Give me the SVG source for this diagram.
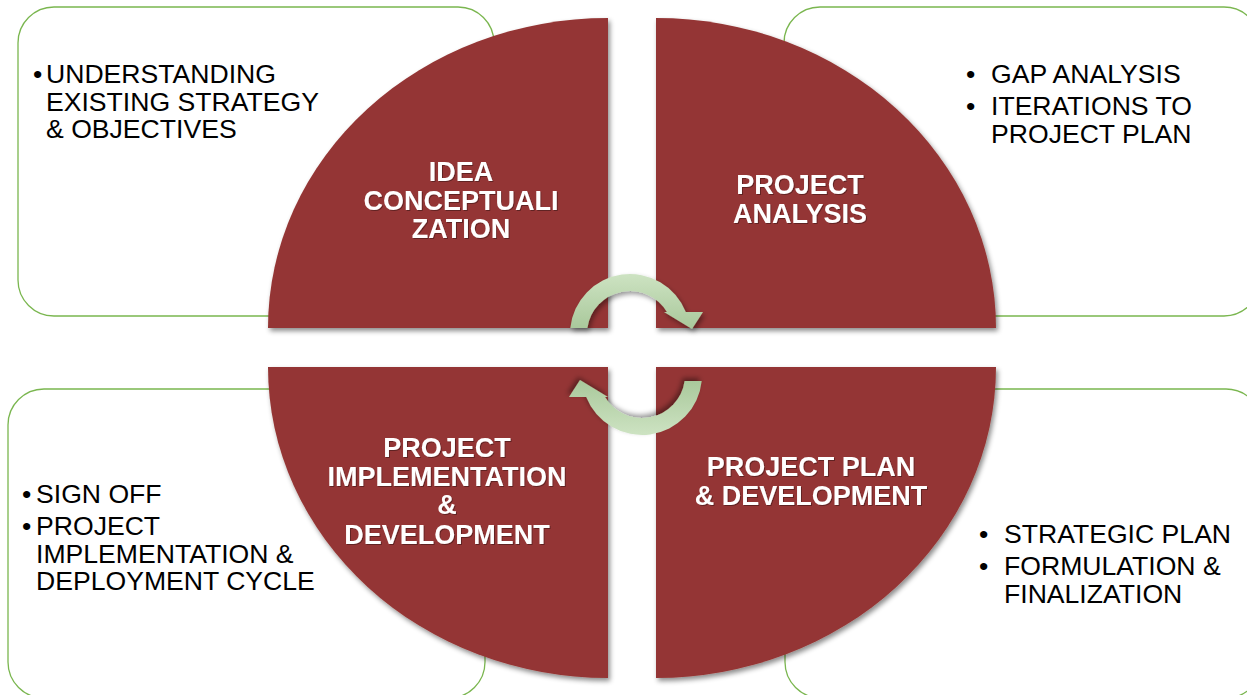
<svg xmlns="http://www.w3.org/2000/svg" width="1247" height="695" viewBox="0 0 1247 695">
<defs>
<style>
.box{fill:#ffffff;stroke:#7ab64f;stroke-width:1.3}
.quad{fill:#943634;filter:url(#sh)}
.lbl{font-family:"Liberation Sans",Arial,sans-serif;font-weight:bold;font-size:27px;fill:#ffffff;text-anchor:middle;filter:url(#tsh)}
.txt{font-family:"Liberation Sans",Arial,sans-serif;font-size:26.6px;fill:#000000}
.arrow{fill:url(#ag);filter:url(#ash)}
</style>
<filter id="sh" x="-10%" y="-10%" width="120%" height="120%">
<feDropShadow dx="2" dy="3" stdDeviation="2.5" flood-color="#000" flood-opacity="0.45"/>
</filter>
<filter id="ash" x="-20%" y="-20%" width="140%" height="140%">
<feDropShadow dx="2" dy="3" stdDeviation="2.5" flood-color="#000" flood-opacity="0.4"/>
</filter>
<filter id="tsh" x="-10%" y="-30%" width="120%" height="160%">
<feDropShadow dx="1" dy="1" stdDeviation="0.6" flood-color="#000" flood-opacity="0.35"/>
</filter>
<linearGradient id="ag" x1="0" y1="0" x2="0" y2="1">
<stop offset="0" stop-color="#cde3c2"/>
<stop offset="1" stop-color="#a9c89b"/>
</linearGradient>
</defs>
<rect width="1247" height="695" fill="#ffffff"/>

<g id="box-tl"><rect class="box" x="18" y="7" width="476" height="309" rx="36"/></g>
<g id="box-tr"><rect class="box" x="784" y="7" width="476" height="309" rx="36"/></g>
<g id="box-bl"><rect class="box" x="8" y="389" width="477" height="309" rx="36"/></g>
<g id="box-br"><rect class="box" x="785" y="389" width="477" height="309" rx="36"/></g>

<g id="node-idea">
<path class="quad" d="M608,18 A340,310 0 0 0 268,328 L608,328 Z"/>
<text class="lbl" x="461" y="181">IDEA</text>
<text class="lbl" x="461" y="210">CONCEPTUALI</text>
<text class="lbl" x="461" y="238">ZATION</text>
</g>
<g id="node-analysis">
<path class="quad" d="M656,18 A340,310 0 0 1 996,328 L656,328 Z"/>
<text class="lbl" x="800" y="194">PROJECT</text>
<text class="lbl" x="800" y="223">ANALYSIS</text>
</g>
<g id="node-implementation">
<path class="quad" d="M268,367 A340,311 0 0 0 608,678 L608,367 Z"/>
<text class="lbl" x="447" y="457">PROJECT</text>
<text class="lbl" x="447" y="486">IMPLEMENTATION</text>
<text class="lbl" x="447" y="514">&amp;</text>
<text class="lbl" x="447" y="544">DEVELOPMENT</text>
</g>
<g id="node-plan">
<path class="quad" d="M656,367 L996,367 A340,311 0 0 1 656,678 Z"/>
<text class="lbl" x="811" y="476">PROJECT PLAN</text>
<text class="lbl" x="811" y="505">&amp; DEVELOPMENT</text>
</g>

<g id="connectors">
<path id="arrow-top" class="arrow" d="M570.3,328 A60,60 0 0 1 685.8,312 L703,312 L692,329 L664,312 L666.9,312 A43,43 0 0 0 587.4,328 Z"/>
<path id="arrow-bottom" class="arrow" transform="rotate(180 636 354.5)" d="M570.3,328 A60,60 0 0 1 685.8,312 L703,312 L692,329 L664,312 L666.9,312 A43,43 0 0 0 587.4,328 Z"/>
</g>

<g id="text-tl">
<text class="txt" x="33" y="83">•</text>
<text class="txt" x="46" y="83">UNDERSTANDING</text>
<text class="txt" x="46" y="111">EXISTING STRATEGY</text>
<text class="txt" x="46" y="138">&amp; OBJECTIVES</text>
</g>
<g id="text-tr">
<text class="txt" x="966" y="83">•</text>
<text class="txt" x="991" y="83">GAP ANALYSIS</text>
<text class="txt" x="966" y="115">•</text>
<text class="txt" x="991" y="115">ITERATIONS TO</text>
<text class="txt" x="991" y="143">PROJECT PLAN</text>
</g>
<g id="text-bl">
<text class="txt" x="22" y="503">•</text>
<text class="txt" x="36" y="503">SIGN OFF</text>
<text class="txt" x="22" y="535">•</text>
<text class="txt" x="36" y="535">PROJECT</text>
<text class="txt" x="36" y="563">IMPLEMENTATION &amp;</text>
<text class="txt" x="36" y="590">DEPLOYMENT CYCLE</text>
</g>
<g id="text-br">
<text class="txt" x="979" y="543">•</text>
<text class="txt" x="1004" y="543">STRATEGIC PLAN</text>
<text class="txt" x="979" y="575">•</text>
<text class="txt" x="1004" y="575">FORMULATION &amp;</text>
<text class="txt" x="1004" y="603">FINALIZATION</text>
</g>
</svg>
